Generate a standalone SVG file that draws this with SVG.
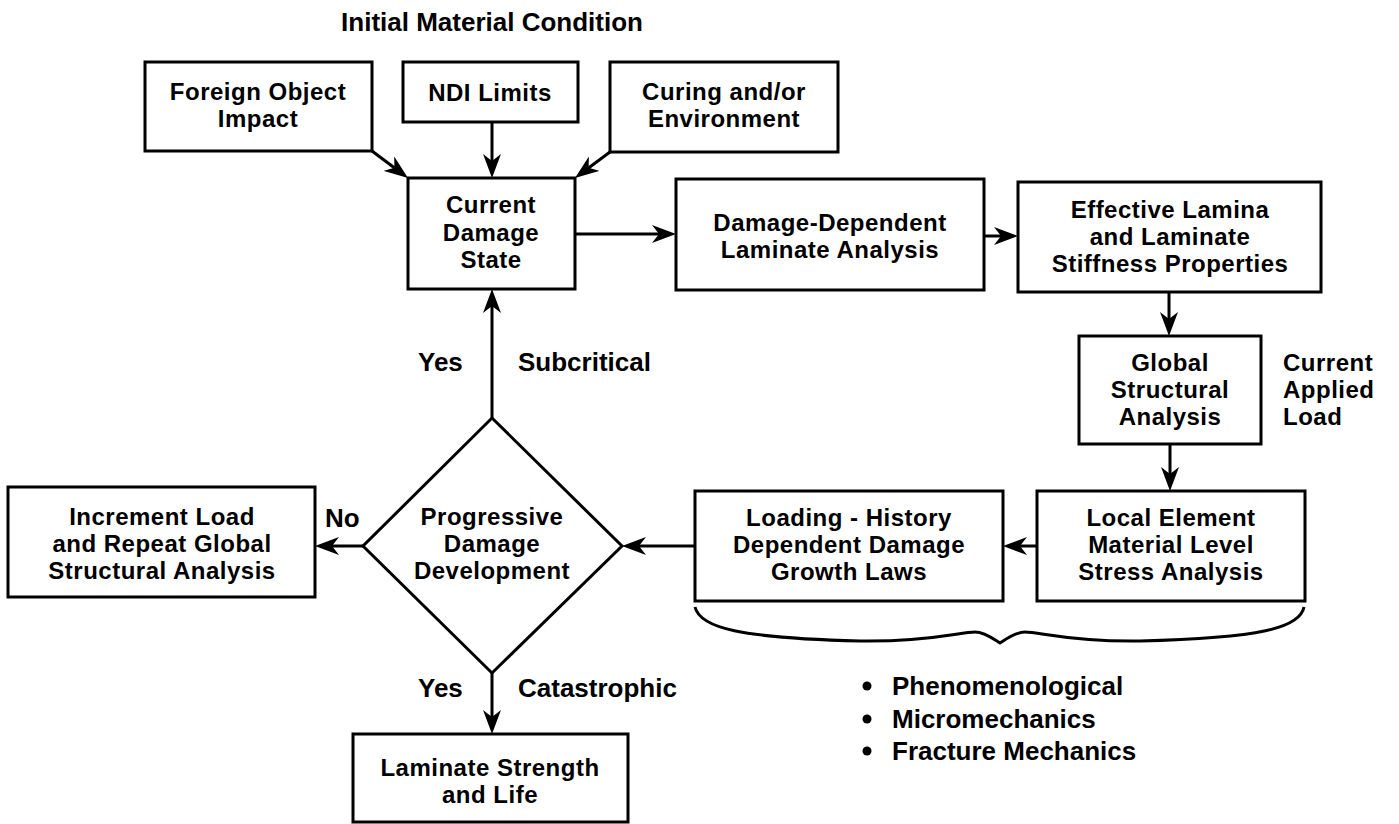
<svg xmlns="http://www.w3.org/2000/svg" width="1399" height="824" viewBox="0 0 1399 824">
<style>
  .box { fill: #fff; stroke: #000; stroke-width: 3; }
  .t { font-family: "Liberation Sans", Arial, sans-serif; font-weight: bold; font-size: 26px; fill: #000; }
  .b { font-size: 24px; letter-spacing: 0.5px; }
  .c { text-anchor: middle; }
  .ln { fill: none; stroke: #000; stroke-width: 3; }
</style>
<defs>
  <marker id="ah" markerUnits="userSpaceOnUse" markerWidth="24" markerHeight="18" viewBox="0 0 24 18" refX="16" refY="9" orient="auto">
    <path d="M0,0 L24,9 L0,18 L7,9 z" fill="#000"/>
  </marker>
</defs>
<rect width="1399" height="824" fill="#fff"/>

<text class="t c" x="492" y="31">Initial Material Condition</text>

<g id="foreign">
  <rect class="box" x="145" y="62" width="227" height="89"/>
  <text class="t b c" x="258" y="100">Foreign Object</text>
  <text class="t b c" x="258" y="127">Impact</text>
</g>
<g id="ndi">
  <rect class="box" x="403" y="62" width="175" height="60"/>
  <text class="t b c" x="490" y="101">NDI Limits</text>
</g>
<g id="curing">
  <rect class="box" x="610" y="62" width="228" height="90"/>
  <text class="t b c" x="724" y="100">Curing and/or</text>
  <text class="t b c" x="724" y="127">Environment</text>
</g>
<g id="current">
  <rect class="box" x="408" y="178" width="167" height="111"/>
  <text class="t b c" x="491" y="213">Current</text>
  <text class="t b c" x="491" y="241">Damage</text>
  <text class="t b c" x="491" y="268">State</text>
</g>
<g id="ddla">
  <rect class="box" x="676" y="179" width="308" height="111"/>
  <text class="t b c" x="830" y="231">Damage-Dependent</text>
  <text class="t b c" x="830" y="258">Laminate Analysis</text>
</g>
<g id="effective">
  <rect class="box" x="1018" y="182" width="303" height="110"/>
  <text class="t b c" x="1170" y="218">Effective Lamina</text>
  <text class="t b c" x="1170" y="245">and Laminate</text>
  <text class="t b c" x="1170" y="272">Stiffness Properties</text>
</g>
<g id="global">
  <rect class="box" x="1079" y="336" width="182" height="108"/>
  <text class="t b c" x="1170" y="371">Global</text>
  <text class="t b c" x="1170" y="398">Structural</text>
  <text class="t b c" x="1170" y="425">Analysis</text>
</g>
<g id="load-label">
  <text class="t b" x="1283" y="371">Current</text>
  <text class="t b" x="1283" y="398">Applied</text>
  <text class="t b" x="1283" y="425">Load</text>
</g>
<g id="local">
  <rect class="box" x="1037" y="491" width="268" height="110"/>
  <text class="t b c" x="1171" y="526">Local Element</text>
  <text class="t b c" x="1171" y="553">Material Level</text>
  <text class="t b c" x="1171" y="580">Stress Analysis</text>
</g>
<g id="loading">
  <rect class="box" x="695" y="491" width="308" height="110"/>
  <text class="t b c" x="849" y="526">Loading - History</text>
  <text class="t b c" x="849" y="553">Dependent Damage</text>
  <text class="t b c" x="849" y="580">Growth Laws</text>
</g>
<g id="decision">
  <polygon class="box" points="492,418 622,546 492,673 363,546"/>
  <text class="t b c" x="492" y="525">Progressive</text>
  <text class="t b c" x="492" y="552">Damage</text>
  <text class="t b c" x="492" y="579">Development</text>
</g>
<g id="increment">
  <rect class="box" x="8" y="487" width="307" height="110"/>
  <text class="t b c" x="162" y="525">Increment Load</text>
  <text class="t b c" x="162" y="552">and Repeat Global</text>
  <text class="t b c" x="162" y="579">Structural Analysis</text>
</g>
<g id="strength">
  <rect class="box" x="353" y="734" width="275" height="88"/>
  <text class="t b c" x="490" y="776">Laminate Strength</text>
  <text class="t b c" x="490" y="803">and Life</text>
</g>
<g id="methods">
  <path class="ln" d="M695,607 C700,628 740,638 860,641 C930,642 960,632 975,632 C985,632 995,640 1000,643 C1005,640 1015,632 1025,632 C1040,632 1070,642 1140,641 C1260,638 1300,628 1304,607"/>
  <circle cx="867" cy="686" r="4.5" fill="#000"/>
  <circle cx="867" cy="719" r="4.5" fill="#000"/>
  <circle cx="867" cy="751" r="4.5" fill="#000"/>
  <text class="t" x="892" y="695">Phenomenological</text>
  <text class="t" x="892" y="728">Micromechanics</text>
  <text class="t" x="892" y="760">Fracture Mechanics</text>
</g>

<g id="connectors">
  <line class="ln" x1="372" y1="151" x2="401.6" y2="173.2" marker-end="url(#ah)"/>
  <line class="ln" x1="492" y1="122" x2="492" y2="170" marker-end="url(#ah)"/>
  <line class="ln" x1="610" y1="152" x2="581.4" y2="173.2" marker-end="url(#ah)"/>
  <line class="ln" x1="575" y1="234" x2="668" y2="234" marker-end="url(#ah)"/>
  <line class="ln" x1="984" y1="236" x2="1010" y2="236" marker-end="url(#ah)"/>
  <line class="ln" x1="1169" y1="292" x2="1169" y2="328" marker-end="url(#ah)"/>
  <line class="ln" x1="1170" y1="444" x2="1170" y2="483" marker-end="url(#ah)"/>
  <line class="ln" x1="1037" y1="546" x2="1011" y2="546" marker-end="url(#ah)"/>
  <line class="ln" x1="695" y1="546" x2="630" y2="546" marker-end="url(#ah)"/>
  <line class="ln" x1="363" y1="546" x2="323" y2="546" marker-end="url(#ah)"/>
  <line class="ln" x1="492" y1="418" x2="492" y2="297" marker-end="url(#ah)"/>
  <line class="ln" x1="492" y1="673" x2="492" y2="726" marker-end="url(#ah)"/>
  <text class="t" x="325" y="527">No</text>
  <text class="t" x="418" y="371">Yes</text>
  <text class="t" x="518" y="371">Subcritical</text>
  <text class="t" x="418" y="697">Yes</text>
  <text class="t" x="518" y="697">Catastrophic</text>
</g>
</svg>
